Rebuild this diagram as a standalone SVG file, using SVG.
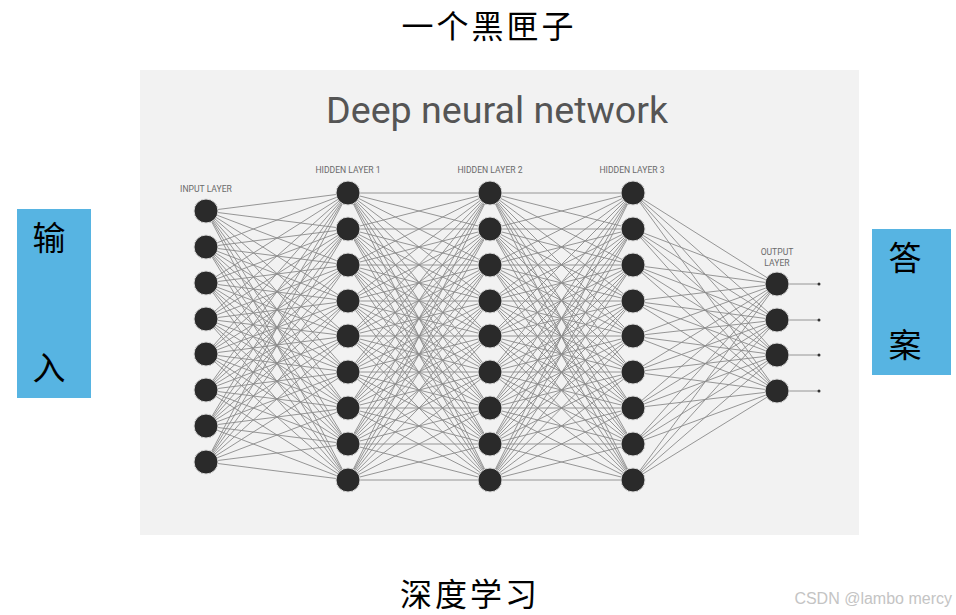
<svg xmlns="http://www.w3.org/2000/svg" width="956" height="615" viewBox="0 0 956 615">
<style>
.cjk{font-family:"Noto Sans CJK SC","Noto Sans",sans-serif;fill:#000}
.lbl{font-family:"Roboto","Liberation Sans",sans-serif;font-size:8.6px;fill:#6a6a6a;text-anchor:middle}
.node{fill:#2a2a2a;stroke:#d8d8d8;stroke-width:1}
.edge{stroke:#8a8a8a;stroke-width:0.9;fill:none}
.box{fill:#57b4e2}
</style>
<rect x="0" y="0" width="956" height="615" fill="#fff"/>
<text class="cjk" x="489" y="37.5" font-size="32" letter-spacing="3" text-anchor="middle">一个黑匣子</text>
<text class="cjk" x="470" y="605.5" font-size="32" letter-spacing="3" text-anchor="middle">深度学习</text>
<g id="input-box"><rect class="box" x="17" y="209" width="74" height="189"/><text class="cjk" x="49" y="250" font-size="33" text-anchor="middle">输</text><text class="cjk" x="49" y="380" font-size="33" text-anchor="middle">入</text></g>
<g id="answer-box"><rect class="box" x="872" y="229" width="79" height="146"/><text class="cjk" x="905" y="270" font-size="33" text-anchor="middle">答</text><text class="cjk" x="905" y="357" font-size="33" text-anchor="middle">案</text></g>
<rect x="140" y="70" width="719" height="465" fill="#f2f2f2"/>
<text x="497" y="123" font-family="Roboto,'Liberation Sans',sans-serif" font-size="36" fill="#555" text-anchor="middle" textLength="342" lengthAdjust="spacingAndGlyphs">Deep neural network</text>
<text class="lbl" x="206" y="192">INPUT LAYER</text>
<text class="lbl" x="348" y="173">HIDDEN LAYER 1</text>
<text class="lbl" x="490" y="173">HIDDEN LAYER 2</text>
<text class="lbl" x="632" y="173">HIDDEN LAYER 3</text>
<text class="lbl" x="777" y="255">OUTPUT</text>
<text class="lbl" x="777" y="266">LAYER</text>
<g id="connectors" class="edge">
<path d="M206 211L348 193M206 211L348 229M206 211L348 265M206 211L348 301M206 211L348 336M206 211L348 372M206 211L348 408M206 211L348 444M206 211L348 480"/>
<path d="M206 247L348 193M206 247L348 229M206 247L348 265M206 247L348 301M206 247L348 336M206 247L348 372M206 247L348 408M206 247L348 444M206 247L348 480"/>
<path d="M206 283L348 193M206 283L348 229M206 283L348 265M206 283L348 301M206 283L348 336M206 283L348 372M206 283L348 408M206 283L348 444M206 283L348 480"/>
<path d="M206 319L348 193M206 319L348 229M206 319L348 265M206 319L348 301M206 319L348 336M206 319L348 372M206 319L348 408M206 319L348 444M206 319L348 480"/>
<path d="M206 354L348 193M206 354L348 229M206 354L348 265M206 354L348 301M206 354L348 336M206 354L348 372M206 354L348 408M206 354L348 444M206 354L348 480"/>
<path d="M206 390L348 193M206 390L348 229M206 390L348 265M206 390L348 301M206 390L348 336M206 390L348 372M206 390L348 408M206 390L348 444M206 390L348 480"/>
<path d="M206 426L348 193M206 426L348 229M206 426L348 265M206 426L348 301M206 426L348 336M206 426L348 372M206 426L348 408M206 426L348 444M206 426L348 480"/>
<path d="M206 462L348 193M206 462L348 229M206 462L348 265M206 462L348 301M206 462L348 336M206 462L348 372M206 462L348 408M206 462L348 444M206 462L348 480"/>
<path d="M348 193L490 193M348 193L490 229M348 193L490 265M348 193L490 301M348 193L490 336M348 193L490 372M348 193L490 408M348 193L490 444M348 193L490 480"/>
<path d="M348 229L490 193M348 229L490 229M348 229L490 265M348 229L490 301M348 229L490 336M348 229L490 372M348 229L490 408M348 229L490 444M348 229L490 480"/>
<path d="M348 265L490 193M348 265L490 229M348 265L490 265M348 265L490 301M348 265L490 336M348 265L490 372M348 265L490 408M348 265L490 444M348 265L490 480"/>
<path d="M348 301L490 193M348 301L490 229M348 301L490 265M348 301L490 301M348 301L490 336M348 301L490 372M348 301L490 408M348 301L490 444M348 301L490 480"/>
<path d="M348 336L490 193M348 336L490 229M348 336L490 265M348 336L490 301M348 336L490 336M348 336L490 372M348 336L490 408M348 336L490 444M348 336L490 480"/>
<path d="M348 372L490 193M348 372L490 229M348 372L490 265M348 372L490 301M348 372L490 336M348 372L490 372M348 372L490 408M348 372L490 444M348 372L490 480"/>
<path d="M348 408L490 193M348 408L490 229M348 408L490 265M348 408L490 301M348 408L490 336M348 408L490 372M348 408L490 408M348 408L490 444M348 408L490 480"/>
<path d="M348 444L490 193M348 444L490 229M348 444L490 265M348 444L490 301M348 444L490 336M348 444L490 372M348 444L490 408M348 444L490 444M348 444L490 480"/>
<path d="M348 480L490 193M348 480L490 229M348 480L490 265M348 480L490 301M348 480L490 336M348 480L490 372M348 480L490 408M348 480L490 444M348 480L490 480"/>
<path d="M490 193L633 193M490 193L633 229M490 193L633 265M490 193L633 301M490 193L633 336M490 193L633 372M490 193L633 408M490 193L633 444M490 193L633 480"/>
<path d="M490 229L633 193M490 229L633 229M490 229L633 265M490 229L633 301M490 229L633 336M490 229L633 372M490 229L633 408M490 229L633 444M490 229L633 480"/>
<path d="M490 265L633 193M490 265L633 229M490 265L633 265M490 265L633 301M490 265L633 336M490 265L633 372M490 265L633 408M490 265L633 444M490 265L633 480"/>
<path d="M490 301L633 193M490 301L633 229M490 301L633 265M490 301L633 301M490 301L633 336M490 301L633 372M490 301L633 408M490 301L633 444M490 301L633 480"/>
<path d="M490 336L633 193M490 336L633 229M490 336L633 265M490 336L633 301M490 336L633 336M490 336L633 372M490 336L633 408M490 336L633 444M490 336L633 480"/>
<path d="M490 372L633 193M490 372L633 229M490 372L633 265M490 372L633 301M490 372L633 336M490 372L633 372M490 372L633 408M490 372L633 444M490 372L633 480"/>
<path d="M490 408L633 193M490 408L633 229M490 408L633 265M490 408L633 301M490 408L633 336M490 408L633 372M490 408L633 408M490 408L633 444M490 408L633 480"/>
<path d="M490 444L633 193M490 444L633 229M490 444L633 265M490 444L633 301M490 444L633 336M490 444L633 372M490 444L633 408M490 444L633 444M490 444L633 480"/>
<path d="M490 480L633 193M490 480L633 229M490 480L633 265M490 480L633 301M490 480L633 336M490 480L633 372M490 480L633 408M490 480L633 444M490 480L633 480"/>
<path d="M633 193L777 284M633 193L777 320M633 193L777 355M633 193L777 391"/>
<path d="M633 229L777 284M633 229L777 320M633 229L777 355M633 229L777 391"/>
<path d="M633 265L777 284M633 265L777 320M633 265L777 355M633 265L777 391"/>
<path d="M633 301L777 284M633 301L777 320M633 301L777 355M633 301L777 391"/>
<path d="M633 336L777 284M633 336L777 320M633 336L777 355M633 336L777 391"/>
<path d="M633 372L777 284M633 372L777 320M633 372L777 355M633 372L777 391"/>
<path d="M633 408L777 284M633 408L777 320M633 408L777 355M633 408L777 391"/>
<path d="M633 444L777 284M633 444L777 320M633 444L777 355M633 444L777 391"/>
<path d="M633 480L777 284M633 480L777 320M633 480L777 355M633 480L777 391"/>
<path d="M777 284H819M777 320H819M777 355H819M777 391H819"/>
</g>
<g id="output-dots" fill="#333"><circle cx="819" cy="284" r="1.5"/><circle cx="819" cy="320" r="1.5"/><circle cx="819" cy="355" r="1.5"/><circle cx="819" cy="391" r="1.5"/></g>
<g id="input-layer">
<circle class="node" cx="206" cy="211" r="12"/><circle class="node" cx="206" cy="247" r="12"/><circle class="node" cx="206" cy="283" r="12"/><circle class="node" cx="206" cy="319" r="12"/><circle class="node" cx="206" cy="354" r="12"/><circle class="node" cx="206" cy="390" r="12"/><circle class="node" cx="206" cy="426" r="12"/><circle class="node" cx="206" cy="462" r="12"/>
</g>
<g id="hidden-layer-1">
<circle class="node" cx="348" cy="193" r="12"/><circle class="node" cx="348" cy="229" r="12"/><circle class="node" cx="348" cy="265" r="12"/><circle class="node" cx="348" cy="301" r="12"/><circle class="node" cx="348" cy="336" r="12"/><circle class="node" cx="348" cy="372" r="12"/><circle class="node" cx="348" cy="408" r="12"/><circle class="node" cx="348" cy="444" r="12"/><circle class="node" cx="348" cy="480" r="12"/>
</g>
<g id="hidden-layer-2">
<circle class="node" cx="490" cy="193" r="12"/><circle class="node" cx="490" cy="229" r="12"/><circle class="node" cx="490" cy="265" r="12"/><circle class="node" cx="490" cy="301" r="12"/><circle class="node" cx="490" cy="336" r="12"/><circle class="node" cx="490" cy="372" r="12"/><circle class="node" cx="490" cy="408" r="12"/><circle class="node" cx="490" cy="444" r="12"/><circle class="node" cx="490" cy="480" r="12"/>
</g>
<g id="hidden-layer-3">
<circle class="node" cx="633" cy="193" r="12"/><circle class="node" cx="633" cy="229" r="12"/><circle class="node" cx="633" cy="265" r="12"/><circle class="node" cx="633" cy="301" r="12"/><circle class="node" cx="633" cy="336" r="12"/><circle class="node" cx="633" cy="372" r="12"/><circle class="node" cx="633" cy="408" r="12"/><circle class="node" cx="633" cy="444" r="12"/><circle class="node" cx="633" cy="480" r="12"/>
</g>
<g id="output-layer">
<circle class="node" cx="777" cy="284" r="12"/><circle class="node" cx="777" cy="320" r="12"/><circle class="node" cx="777" cy="355" r="12"/><circle class="node" cx="777" cy="391" r="12"/>
</g>
<text x="952" y="604" font-family="'Liberation Sans',sans-serif" font-size="16" fill="#c4c4c4" text-anchor="end">CSDN @lambo mercy</text>
</svg>
